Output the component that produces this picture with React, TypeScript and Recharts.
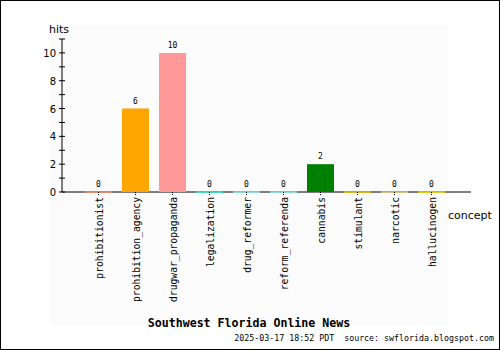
import { BarChart, Bar, XAxis, YAxis, Cell, LabelList, Rectangle } from "recharts";

const concepts = [
  "prohibitionist",
  "prohibition_agency",
  "drugwar_propaganda",
  "legalization",
  "drug_reformer",
  "reform_referenda",
  "cannabis",
  "stimulant",
  "narcotic",
  "hallucinogen",
];
const hits = [0, 6, 10, 0, 0, 0, 2, 0, 0, 0];
const barColors = [
  "#ff9966",
  "#ffa500",
  "#ff9999",
  "#33ffcc",
  "#99ffff",
  "#99ffff",
  "#008000",
  "#ffcc00",
  "#eedd88",
  "#ffee00",
];
const yTicks = [0, 1, 2, 3, 4, 5, 6, 7, 8, 9, 10, 11];

const data = concepts.map((c, i) => ({ concept: c, hits: hits[i] }));

const mono = "'DejaVu Sans Mono', monospace";
const sans = "'DejaVu Sans', sans-serif";

function YTick(props: any) {
  const { x, y, payload } = props;
  const v = payload.value as number;
  return (
    <g>
      <line x1={x - 3} x2={x + 3} y1={y} y2={y} stroke="#000" />
      {v % 2 === 0 && (
        <text x={x - 6} y={y} dy={4} textAnchor="end" fontSize={10} fontFamily={sans} fill="#000">
          {v}
        </text>
      )}
    </g>
  );
}

function XTick(props: any) {
  const { x, y, payload } = props;
  return (
    <g>
      <line x1={x} x2={x} y1={y} y2={y + 4} stroke="#000" strokeDasharray="1 1" />
      <text
        x={x + 4}
        y={y + 5}
        transform={`rotate(-90 ${x + 4} ${y + 5})`}
        textAnchor="end"
        fontSize={9.7}
        fontFamily={mono}
        fill="#000"
      >
        {payload.value}
      </text>
    </g>
  );
}

function BarShape(props: any) {
  const { x, y, width, height, fill } = props;
  if (!height) {
    return <rect x={x} y={y - 0.5} width={width} height={1.2} fill={fill} />;
  }
  return <Rectangle x={x} y={y} width={width} height={height} fill={fill} />;
}

export default function App() {
  return (
    <div style={{ position: "relative", width: 500, height: 350, background: "#fff" }}>
      <style>{`body{margin:0}`}</style>
      <div style={{ position: "absolute", left: 50, top: 25, width: 399, height: 300, background: "#fbfbfb" }} />
      <div style={{ position: "absolute", left: 0, top: 0 }}>
        <BarChart
          width={500}
          height={350}
          data={data}
          margin={{ top: 39, right: 29, bottom: 0, left: 0 }}
          barSize={27}
        >
          <XAxis
            dataKey="concept"
            height={158}
            padding={{ left: 18, right: 21 }}
            axisLine={{ stroke: "#000" }}
            tickLine={false}
            tickSize={0}
            tickMargin={0}
            interval={0}
            tick={<XTick />}
          />
          <YAxis
            width={62}
            domain={[0, 11]}
            ticks={yTicks}
            interval={0}
            axisLine={{ stroke: "#000" }}
            tickLine={false}
            tickSize={0}
            tickMargin={0}
            tick={<YTick />}
          />
          <Bar dataKey="hits" isAnimationActive={false} shape={<BarShape />} zIndex={900}>
            {data.map((d, i) => (
              <Cell key={d.concept} fill={barColors[i]} />
            ))}
            <LabelList dataKey="hits" position="top" offset={5} fontSize={8} fontFamily={mono} fill="#000" />
          </Bar>
        </BarChart>
      </div>
      <svg width={500} height={350} style={{ position: "absolute", left: 0, top: 0, pointerEvents: "none" }}>
        <text x={49} y={33} fontSize={11} fontFamily={sans} fill="#000">hits</text>
        <text x={448} y={219} fontSize={11} fontFamily={sans} fill="#000">concept</text>
        <text x={249} y={327} textAnchor="middle" fontSize={11.6} fontWeight="bold" fontFamily={mono} fill="#000">
          Southwest Florida Online News
        </text>
        <text x={494} y={341} textAnchor="end" fontSize={8.3} fontFamily={mono} fill="#000" xmlSpace="preserve">
          2025-03-17 18:52 PDT  source: swflorida.blogspot.com
        </text>
        <rect x={0.5} y={0.5} width={499} height={349} fill="none" stroke="#000" />
      </svg>
    </div>
  );
}
